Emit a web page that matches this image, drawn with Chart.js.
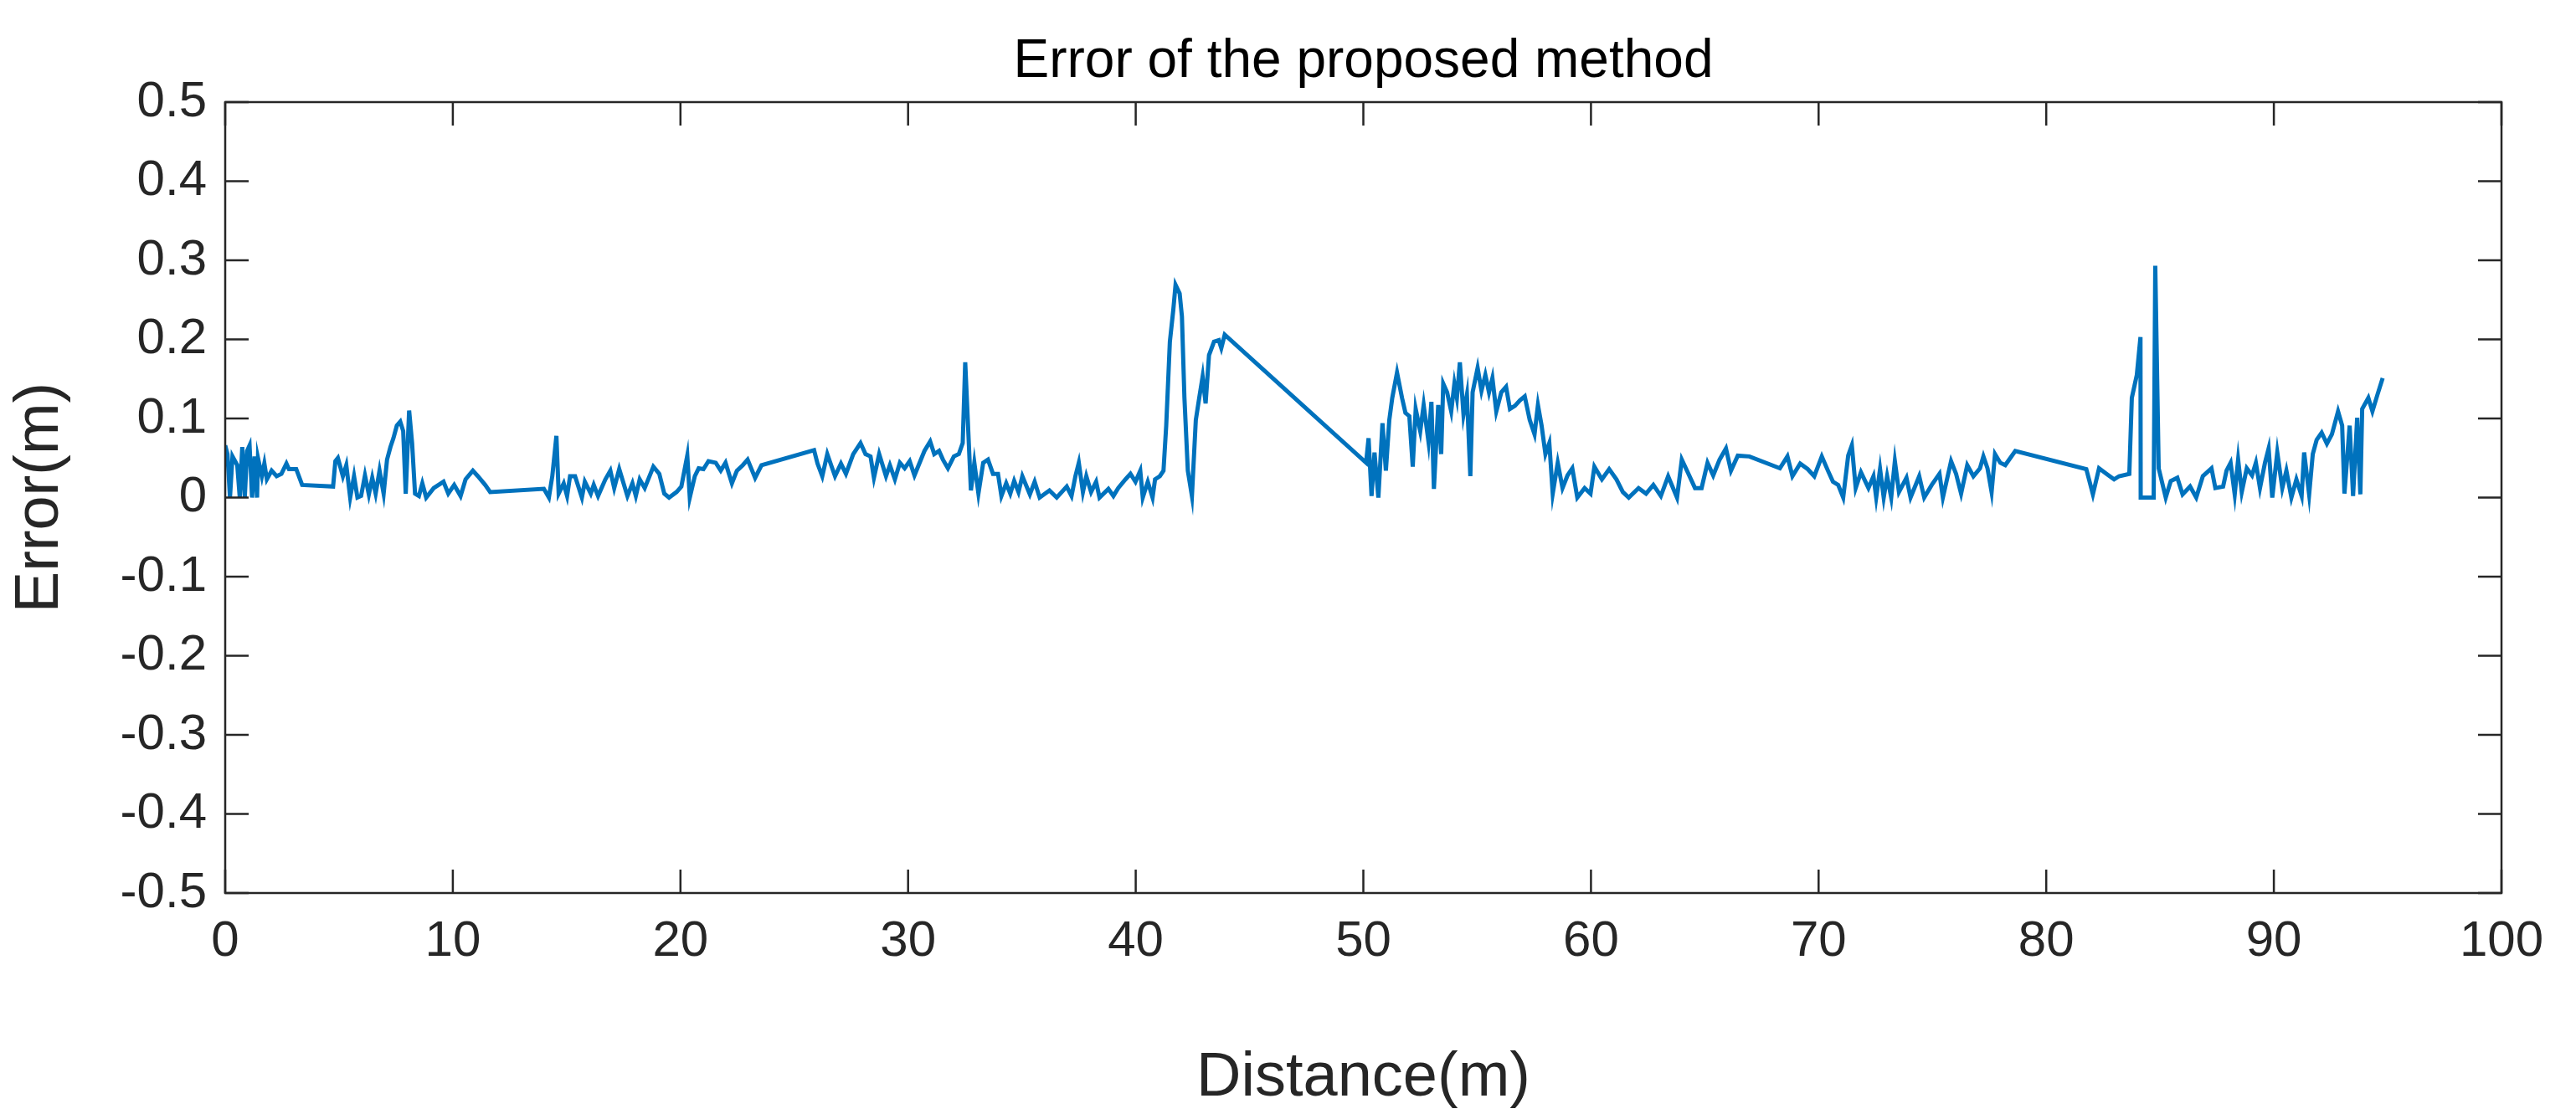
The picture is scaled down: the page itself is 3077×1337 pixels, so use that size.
<!DOCTYPE html>
<html>
<head>
<meta charset="utf-8">
<script src="https://cdn.jsdelivr.net/npm/chart.js@4"></script>
<style>
  html, body { margin: 0; padding: 0; background: #fff; }
  #wrap { width: 3077px; height: 1337px; }
</style>
</head>
<body>
<div id="wrap"><canvas id="errChart" width="3077" height="1337"></canvas></div>
<script>
const chartTitle = 'Error of the proposed method';
const xLabel = 'Distance(m)';
const yLabel = 'Error(m)';
const xTicks = [0, 10, 20, 30, 40, 50, 60, 70, 80, 90, 100];
const yTicks = [-0.5, -0.4, -0.3, -0.2, -0.1, 0, 0.1, 0.2, 0.3, 0.4, 0.5];

const distance = [
  0, 0.1, 0.21, 0.32, 0.53, 0.64, 0.75, 0.86, 0.96, 1.07, 1.18, 1.29, 1.4, 1.44, 1.61, 1.72, 1.83, 2.04, 2.26, 2.47,
  2.69, 2.8, 3.12, 3.38, 4.74, 4.84, 4.95, 5.17, 5.32, 5.49, 5.66, 5.81, 5.97, 6.14, 6.31, 6.46, 6.61, 6.78, 6.96, 7.11,
  7.26, 7.39, 7.54, 7.69, 7.82, 7.93, 8.08, 8.21, 8.34, 8.51, 8.66, 8.83, 9.16, 9.59, 9.8, 10.06, 10.34, 10.56, 10.88, 11.1,
  11.42, 11.64, 14.0, 14.22, 14.37, 14.55, 14.65, 14.87, 15.02, 15.15, 15.37, 15.67, 15.8, 16.06, 16.19, 16.38, 16.7, 16.92, 17.09, 17.31,
  17.67, 17.89, 18.04, 18.21, 18.43, 18.81, 19.07, 19.29, 19.5, 19.83, 20.04, 20.3, 20.41, 20.63, 20.8, 21.01, 21.23, 21.55, 21.77, 21.98,
  22.26, 22.48, 22.74, 22.95, 23.28, 23.56, 25.87, 26.02, 26.23, 26.45, 26.79, 27.05, 27.27, 27.59, 27.91, 28.13, 28.35, 28.5, 28.73, 29.03,
  29.2, 29.42, 29.64, 29.85, 30.07, 30.28, 30.72, 30.97, 31.15, 31.36, 31.53, 31.75, 32.01, 32.23, 32.4, 32.51, 32.76, 32.91, 33.09, 33.3,
  33.51, 33.73, 33.95, 34.1, 34.31, 34.49, 34.66, 34.85, 35.02, 35.35, 35.56, 35.78, 36.21, 36.53, 36.97, 37.18, 37.35, 37.5, 37.68, 37.83,
  38.04, 38.26, 38.41, 38.8, 39.02, 39.23, 39.55, 39.77, 39.99, 40.2, 40.31, 40.53, 40.74, 40.85, 41.06, 41.22, 41.34, 41.5, 41.65, 41.75,
  41.93, 42.03, 42.14, 42.29, 42.47, 42.64, 42.79, 42.94, 43.07, 43.22, 43.44, 43.65, 43.76, 43.91, 50.12, 50.23, 50.36, 50.49, 50.66, 50.84,
  50.99, 51.14, 51.27, 51.48, 51.7, 51.85, 52.02, 52.17, 52.3, 52.5, 52.65, 52.86, 52.99, 53.1, 53.29, 53.42, 53.51, 53.68, 53.86, 54.0,
  54.11, 54.24, 54.4, 54.55, 54.7, 54.8, 55.02, 55.19, 55.36, 55.52, 55.67, 55.84, 56.06, 56.27, 56.44, 56.66, 56.88, 57.09, 57.31, 57.52,
  57.67, 57.83, 58.0, 58.17, 58.32, 58.54, 58.75, 58.97, 59.18, 59.4, 59.72, 59.98, 60.15, 60.48, 60.8, 61.12, 61.4, 61.66, 62.09, 62.42,
  62.74, 63.07, 63.39, 63.78, 63.99, 64.25, 64.57, 64.86, 65.12, 65.37, 65.65, 65.93, 66.15, 66.45, 66.96, 68.3, 68.63, 68.85, 69.19, 69.52,
  69.81, 70.14, 70.41, 70.63, 70.86, 71.08, 71.3, 71.46, 71.63, 71.86, 72.19, 72.41, 72.53, 72.7, 72.86, 73.01, 73.19, 73.35, 73.53, 73.86,
  74.04, 74.42, 74.64, 74.97, 75.31, 75.46, 75.82, 76.04, 76.26, 76.53, 76.8, 77.09, 77.24, 77.42, 77.6, 77.75, 77.98, 78.2, 78.64, 81.76,
  82.05, 82.32, 82.65, 82.98, 83.2, 83.65, 83.76, 83.98, 84.14, 84.15, 84.72, 84.79, 84.94, 85.25, 85.47, 85.76, 85.99, 86.32, 86.59, 86.88,
  87.26, 87.43, 87.77, 87.92, 88.1, 88.28, 88.43, 88.59, 88.81, 89.04, 89.21, 89.39, 89.61, 89.77, 89.93, 90.15, 90.37, 90.55, 90.77, 90.99,
  91.22, 91.33, 91.55, 91.71, 91.88, 92.1, 92.33, 92.55, 92.82, 93.0, 93.1, 93.33, 93.48, 93.66, 93.8, 93.88, 94.15, 94.33, 94.55, 94.78
];

const error = [
  0.066, 0.055, 0, 0.052, 0.041, 0, 0.064, 0, 0.059, 0.066, 0, 0.052, 0, 0.05, 0.027, 0.043, 0.023, 0.034, 0.027, 0.03,
  0.043, 0.036, 0.036, 0.016, 0.014, 0.046, 0.05, 0.027, 0.041, 0, 0.027, 0, 0.002, 0.028, 0.004, 0.025, 0.005, 0.034, 0.005, 0.048,
  0.064, 0.075, 0.091, 0.096, 0.084, 0.005, 0.11, 0.069, 0.005, 0.002, 0.018, 0, 0.012, 0.02, 0.005, 0.016, 0.002, 0.023, 0.034, 0.027,
  0.016, 0.007, 0.011, 0, 0.027, 0.078, 0.005, 0.018, 0.002, 0.027, 0.027, 0, 0.02, 0.005, 0.016, 0.002, 0.023, 0.034, 0.012, 0.036,
  0.002, 0.018, 0.002, 0.023, 0.012, 0.039, 0.03, 0.005, 0, 0.007, 0.014, 0.053, 0, 0.027, 0.037, 0.036, 0.046, 0.044, 0.034, 0.044,
  0.018, 0.034, 0.041, 0.048, 0.025, 0.041, 0.06, 0.043, 0.027, 0.055, 0.027, 0.043, 0.03, 0.055, 0.069, 0.055, 0.052, 0.025, 0.055, 0.027,
  0.041, 0.023, 0.044, 0.037, 0.046, 0.028, 0.059, 0.071, 0.055, 0.059, 0.048, 0.037, 0.052, 0.055, 0.069, 0.171, 0.009, 0.044, 0.005, 0.044,
  0.048, 0.03, 0.03, 0.002, 0.018, 0.005, 0.021, 0.007, 0.027, 0.004, 0.02, 0, 0.009, 0, 0.014, 0.002, 0.027, 0.044, 0.007, 0.027,
  0.007, 0.02, 0, 0.011, 0.002, 0.012, 0.023, 0.03, 0.02, 0.034, 0, 0.02, 0, 0.023, 0.027, 0.034, 0.091, 0.197, 0.237, 0.269,
  0.258, 0.229, 0.126, 0.034, 0.002, 0.098, 0.126, 0.153, 0.119, 0.18, 0.197, 0.199, 0.189, 0.206, 0.044, 0.075, 0.002, 0.057, 0, 0.094,
  0.034, 0.098, 0.126, 0.158, 0.126, 0.107, 0.103, 0.039, 0.112, 0.084, 0.117, 0.071, 0.121, 0.011, 0.117, 0.055, 0.144, 0.133, 0.109, 0.144,
  0.126, 0.171, 0.105, 0.13, 0.027, 0.133, 0.164, 0.135, 0.155, 0.133, 0.151, 0.109, 0.133, 0.14, 0.112, 0.116, 0.123, 0.128, 0.098, 0.08,
  0.117, 0.091, 0.055, 0.069, 0.005, 0.044, 0.012, 0.028, 0.037, 0, 0.012, 0.005, 0.039, 0.023, 0.036, 0.023, 0.007, 0, 0.012, 0.005,
  0.016, 0.002, 0.027, 0, 0.048, 0.032, 0.012, 0.012, 0.044, 0.028, 0.048, 0.062, 0.034, 0.053, 0.052, 0.037, 0.052, 0.027, 0.043, 0.036,
  0.027, 0.052, 0.034, 0.02, 0.016, 0, 0.053, 0.066, 0.012, 0.032, 0.012, 0.027, 0, 0.036, 0, 0.027, 0, 0.046, 0.007, 0.025,
  0, 0.027, 0, 0.016, 0.03, 0, 0.046, 0.03, 0.005, 0.041, 0.027, 0.037, 0.052, 0.037, 0.007, 0.055, 0.044, 0.041, 0.059, 0.036,
  0.004, 0.037, 0.03, 0.023, 0.027, 0.03, 0.126, 0.155, 0.203, 0, 0, 0.293, 0.037, 0, 0.021, 0.025, 0.004, 0.014, 0, 0.027,
  0.037, 0.012, 0.014, 0.034, 0.044, 0.004, 0.048, 0.007, 0.037, 0.028, 0.044, 0.012, 0.044, 0.062, 0, 0.057, 0.012, 0.034, 0, 0.023,
  0.002, 0.057, 0.004, 0.055, 0.073, 0.082, 0.068, 0.08, 0.109, 0.091, 0.005, 0.091, 0.002, 0.101, 0.004, 0.112, 0.126, 0.109, 0.13, 0.151
];

const FONT = "'Liberation Sans Narrow', 'Liberation Sans', Arial, sans-serif";
const INK = '#262626';

// MATLAB style box with inward ticks and the title
const boxPlugin = {
  id: 'box',
  afterDraw(chart) {
    const ctx = chart.ctx, a = chart.chartArea;
    const xs = chart.scales.x, ys = chart.scales.y;
    ctx.save();
    ctx.strokeStyle = INK;
    ctx.lineWidth = 2.5;
    ctx.strokeRect(a.left, a.top, a.right - a.left, a.bottom - a.top);
    const t = 28;
    ctx.beginPath();
    xTicks.forEach(v => {
      const p = xs.getPixelForValue(v);
      ctx.moveTo(p, a.bottom); ctx.lineTo(p, a.bottom - t);
      ctx.moveTo(p, a.top); ctx.lineTo(p, a.top + t);
    });
    yTicks.forEach(v => {
      const p = ys.getPixelForValue(v);
      ctx.moveTo(a.left, p); ctx.lineTo(a.left + t, p);
      ctx.moveTo(a.right, p); ctx.lineTo(a.right - t, p);
    });
    ctx.stroke();
    ctx.fillStyle = '#000';
    ctx.font = '64px ' + FONT;
    ctx.textAlign = 'center';
    ctx.textBaseline = 'alphabetic';
    ctx.fillText(chartTitle, (a.left + a.right) / 2, 92);
    ctx.restore();
  }
};

new Chart(document.getElementById('errChart'), {
  type: 'line',
  data: {
    datasets: [{
      data: distance.map((d, i) => ({ x: d, y: error[i] })),
      borderColor: '#0072BD',
      borderWidth: 5,
      pointRadius: 0,
      tension: 0,
      fill: false
    }]
  },
  options: {
    responsive: false,
    animation: false,
    devicePixelRatio: 1,
    layout: { padding: { top: 122, right: 89, left: 0, bottom: 0 } },
    plugins: { legend: { display: false }, tooltip: { enabled: false } },
    scales: {
      x: {
        type: 'linear', min: 0, max: 100,
        afterBuildTicks: s => { s.ticks = xTicks.map(v => ({ value: v })); },
        afterFit: s => { s.height = 270; },
        grid: { display: false },
        border: { display: false },
        ticks: { color: INK, font: { family: FONT, size: 60 }, padding: 14, maxRotation: 0 },
        title: { display: true, text: xLabel, color: INK, font: { family: FONT, size: 74 }, padding: { top: 0 } }
      },
      y: {
        type: 'linear', min: -0.5, max: 0.5,
        afterBuildTicks: s => { s.ticks = yTicks.map(v => ({ value: v })); },
        afterFit: s => { s.width = 269; },
        grid: { display: false },
        border: { display: false },
        ticks: { color: INK, font: { family: FONT, size: 60 }, padding: 14, callback: v => String(Math.round(v * 10) / 10) },
        title: { display: true, text: yLabel, color: INK, font: { family: FONT, size: 74 }, padding: { bottom: 0 } }
      }
    }
  },
  plugins: [boxPlugin]
});
</script>
</body>
</html>
